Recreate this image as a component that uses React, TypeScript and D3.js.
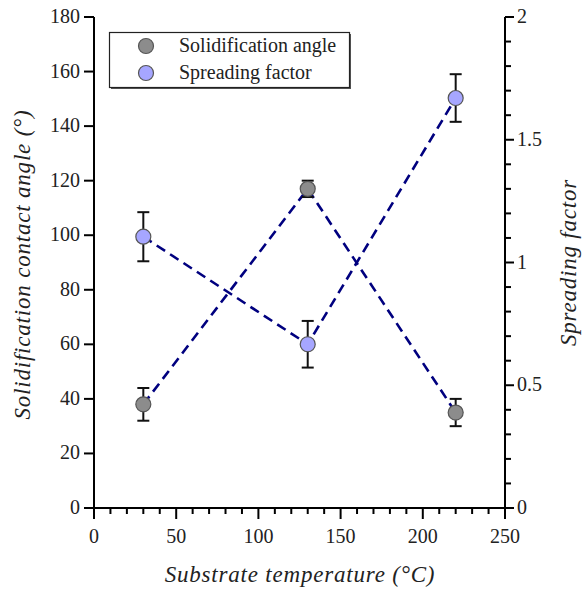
import React from "react";
import * as d3 from "d3";

const temperatures = [30, 130, 220];
const solidAngle = [38, 117, 35];
const solidErr = [6, 3, 5];
const spreadFactor = [1.105, 0.667, 1.67];
const spreadErr = [0.1, 0.095, 0.097];
const xTicks = [0, 50, 100, 150, 200, 250];
const yLeftTicks = [0, 20, 40, 60, 80, 100, 120, 140, 160, 180];
const yRightTicks = [0, 0.5, 1, 1.5, 2];
const seriesNames = ["Solidification angle", "Spreading factor"];

const W = 585, H = 590;
const L = 94, R = 505, T = 17, B = 508;
const FONT = "Liberation Serif, Times New Roman, Times, DejaVu Serif, serif";

export default function App() {
  const x = d3.scaleLinear().domain([0, 250]).range([L, R]);
  const yL = d3.scaleLinear().domain([0, 180]).range([B, T]);
  const yR = d3.scaleLinear().domain([0, 2]).range([B, T]);
  const xMinor = d3.range(0, 251, 10).filter((v) => v % 50 !== 0);
  const yRMinor = d3.range(0, 2.001, 0.1).map((v) => +v.toFixed(2)).filter((v) => Math.abs((v * 2) % 1) > 1e-6);

  const lineL = d3.line<number>().x((_, i) => x(temperatures[i])).y((d) => yL(d));
  const lineR = d3.line<number>().x((_, i) => x(temperatures[i])).y((d) => yR(d));
  const lineColor = "#00007f";
  const c1 = "#8c8c8c", c2 = "#a6a6ff", mStroke = "#555";
  const cap = 6;
  const ts = { fontFamily: FONT } as React.CSSProperties;
  const tts = { fontFamily: FONT, letterSpacing: "0.8px" } as React.CSSProperties;

  return (
    <svg width={W} height={H} style={{ position: "absolute", left: 0, top: 0, fontFamily: FONT }}>
      <rect width={W} height={H} fill="#fff" />
      <line x1={L} x2={L} y1={T} y2={B} stroke="#000" strokeWidth={2} />
      <line x1={R} x2={R} y1={T} y2={B} stroke="#000" strokeWidth={2} />
      <line x1={L} x2={R} y1={B} y2={B} stroke="#000" strokeWidth={2} />
      {xTicks.map((t) => (
        <g key={"xt" + t}>
          <line x1={x(t)} x2={x(t)} y1={B} y2={B + 11} stroke="#000" strokeWidth={2} />
          <text style={ts} x={x(t)} y={B + 35} fontSize={20} textAnchor="middle" fill="#222">{t}</text>
        </g>
      ))}
      {xMinor.map((t) => (
        <line key={"xm" + t} x1={x(t)} x2={x(t)} y1={B} y2={B + 6} stroke="#000" strokeWidth={2} />
      ))}
      {yLeftTicks.map((t) => (
        <g key={"yl" + t}>
          <line x1={L - 10} x2={L} y1={yL(t)} y2={yL(t)} stroke="#000" strokeWidth={2} />
          <text style={ts} x={L - 14} y={yL(t) + 6} fontSize={20} textAnchor="end" fill="#222">{t}</text>
        </g>
      ))}
      {yRightTicks.map((t) => (
        <g key={"yr" + t}>
          <line x1={R} x2={R + 9} y1={yR(t)} y2={yR(t)} stroke="#000" strokeWidth={2} />
          <text style={ts} x={R + 12} y={yR(t) + 6} fontSize={20} textAnchor="start" fill="#222">{t}</text>
        </g>
      ))}
      {yRMinor.map((t) => (
        <line key={"yrm" + t} x1={R} x2={R + 6} y1={yR(t)} y2={yR(t)} stroke="#000" strokeWidth={2} />
      ))}
      <text style={tts} x={300} y={582} fontSize={23} fontStyle="italic" textAnchor="middle" fill="#222">Substrate temperature (°C)</text>
      <text style={tts} transform={`translate(30, ${(T + B) / 2 + 2}) rotate(-90)`} fontSize={23} fontStyle="italic" textAnchor="middle" fill="#222">Solidification contact angle (°)</text>
      <text style={tts} transform={`translate(576, ${(T + B) / 2}) rotate(-90)`} fontSize={23} fontStyle="italic" textAnchor="middle" fill="#222">Spreading factor</text>
      <path d={lineL(solidAngle) || ""} fill="none" stroke={lineColor} strokeWidth={2.6} strokeDasharray="10,6" />
      <path d={lineR(spreadFactor) || ""} fill="none" stroke={lineColor} strokeWidth={2.6} strokeDasharray="10,6" />
      {temperatures.map((t, i) => (
        <g key={"eb1" + i} stroke="#111" strokeWidth={2}>
          <line x1={x(t)} x2={x(t)} y1={yL(solidAngle[i] - solidErr[i])} y2={yL(solidAngle[i] + solidErr[i])} />
          <line x1={x(t) - cap} x2={x(t) + cap} y1={yL(solidAngle[i] - solidErr[i])} y2={yL(solidAngle[i] - solidErr[i])} />
          <line x1={x(t) - cap} x2={x(t) + cap} y1={yL(solidAngle[i] + solidErr[i])} y2={yL(solidAngle[i] + solidErr[i])} />
        </g>
      ))}
      {temperatures.map((t, i) => (
        <g key={"eb2" + i} stroke="#111" strokeWidth={2}>
          <line x1={x(t)} x2={x(t)} y1={yR(spreadFactor[i] - spreadErr[i])} y2={yR(spreadFactor[i] + spreadErr[i])} />
          <line x1={x(t) - cap} x2={x(t) + cap} y1={yR(spreadFactor[i] - spreadErr[i])} y2={yR(spreadFactor[i] - spreadErr[i])} />
          <line x1={x(t) - cap} x2={x(t) + cap} y1={yR(spreadFactor[i] + spreadErr[i])} y2={yR(spreadFactor[i] + spreadErr[i])} />
        </g>
      ))}
      {temperatures.map((t, i) => (
        <circle key={"m1" + i} cx={x(t)} cy={yL(solidAngle[i])} r={7.5} fill={c1} stroke={mStroke} strokeWidth={1.2} />
      ))}
      {temperatures.map((t, i) => (
        <circle key={"m2" + i} cx={x(t)} cy={yR(spreadFactor[i])} r={7.5} fill={c2} stroke={mStroke} strokeWidth={1.2} />
      ))}
      <rect x={111} y={34} width={240} height={55} fill="#555" />
      <rect x={109.5} y={32.5} width={240} height={55} fill="#fff" stroke="#222" strokeWidth={1.2} />
      <circle cx={146} cy={46} r={7.5} fill={c1} stroke={mStroke} strokeWidth={1.2} />
      <circle cx={146} cy={73} r={7.5} fill={c2} stroke={mStroke} strokeWidth={1.2} />
      <text style={ts} x={179} y={52} fontSize={20} fill="#222">{seriesNames[0]}</text>
      <text style={ts} x={179} y={79} fontSize={20} fill="#222">{seriesNames[1]}</text>
    </svg>
  );
}
